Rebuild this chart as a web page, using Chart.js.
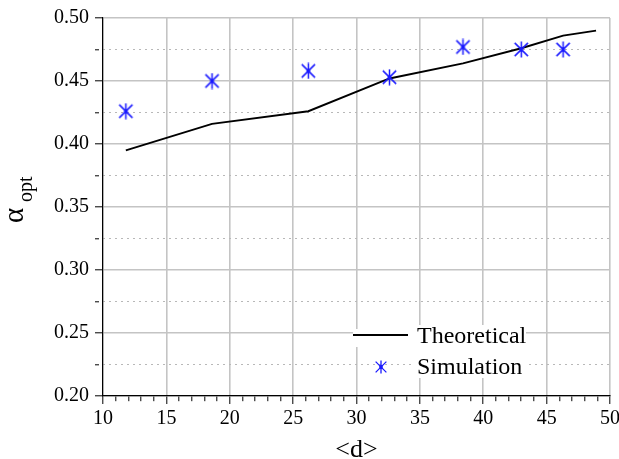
<!DOCTYPE html>
<html>
<head>
<meta charset="utf-8">
<script src="https://cdn.jsdelivr.net/npm/chart.js@4.4.1/dist/chart.umd.min.js"></script>
<style>
    html, body { margin: 0 ; padding: 0 ; background: #ffffff ; }
    #wrap { width: 619px ; height: 459px ; }
</style>
</head>
<body>
<div id="wrap"><canvas id="alphaCanvas" width="619" height="459"></canvas></div>
<script>
    // ---------------- Data -----------------------------------------------
    var theoX  = [ 11.8, 18.6, 26.2, 32.6, 38.4, 43.0, 46.3, 48.9 ] ;
    var theoY  = [ 0.395, 0.416, 0.426, 0.452, 0.464, 0.476, 0.486, 0.490 ] ;
    var simX   = [ 11.8, 18.6, 26.2, 32.6, 38.4, 43.0, 46.3 ] ;
    var simY   = [ 0.426, 0.450, 0.458, 0.453, 0.477, 0.475, 0.475 ] ;
    var xTicks = [ 10, 15, 20, 25, 30, 35, 40, 45, 50 ] ;
    var yTicks = [ 0.20, 0.25, 0.30, 0.35, 0.40, 0.45, 0.50 ] ;

    // ---------------- Styles ---------------------------------------------
    var SERIF     = '"Liberation Serif", "Times New Roman", serif' ;
    var GRID_GRAY = '#c4c4c4' ;
    var DOT_GRAY  = '#b8b8b8' ;
    var STAR_BLUE = 'rgb(25, 25, 255)' ;
    var CLEAR     = 'rgba(0,0,0,0)' ;

    function isMajorX( v ) {
        return xTicks.indexOf( Math.round( v ) ) >= 0 && Math.abs( v - Math.round( v ) ) < 1e-6 ;
    }

    function isMajorY( v ) {
        for( var i = 0 ; i < yTicks.length ; i++ ) {
            if( Math.abs( v - yTicks[i] ) < 1e-6 ) return true ;
        }
        return false ;
    }

    function toPoints( xs, ys ) {
        var pts = [] ;
        for( var i = 0 ; i < xs.length ; i++ ) {
            pts.push( { x: xs[i], y: ys[i] } ) ;
        }
        return pts ;
    }

    // asterisk marker: vertical bar + X, with a dot in the middle
    function makeStar( size, lw ) {
        var c = document.createElement( 'canvas' ) ;
        c.width = size ;
        c.height = size ;
        var ctx = c.getContext( '2d' ) ;
        var m = size / 2 ;
        var r = size / 2 - 0.6 ;
        var d = r * 0.84 ;
        ctx.strokeStyle = STAR_BLUE ;
        ctx.fillStyle = STAR_BLUE ;
        ctx.lineWidth = lw ;
        ctx.beginPath() ;
        ctx.moveTo( m, m - r ) ;     ctx.lineTo( m, m + r ) ;
        ctx.moveTo( m - d, m - d ) ; ctx.lineTo( m + d, m + d ) ;
        ctx.moveTo( m + d, m - d ) ; ctx.lineTo( m - d, m + d ) ;
        ctx.stroke() ;
        ctx.beginPath() ;
        ctx.arc( m, m, 1.9, 0, Math.PI * 2 ) ;
        ctx.fill() ;
        return c ;
    }

    var dataStar   = makeStar( 17, 1.5 ) ;
    var legendStar = makeStar( 14, 1.3 ) ;

    // ---------------- Titles and legend painted on top -------------------
    var decorPlugin = {
        id: 'decor',
        afterDraw: function( chart ) {
            var ctx = chart.ctx ;
            var area = chart.chartArea ;
            ctx.save() ;

            // x title
            ctx.fillStyle = '#000' ;
            ctx.font = '26px ' + SERIF ;
            ctx.textAlign = 'center' ;
            ctx.textBaseline = 'alphabetic' ;
            ctx.fillText( '<d>', ( area.left + area.right ) / 2, 457 ) ;

            // y title : alpha with subscript "opt"
            ctx.save() ;
            ctx.translate( 23, 223 ) ;
            ctx.rotate( -Math.PI / 2 ) ;
            ctx.textAlign = 'left' ;
            ctx.font = '29px ' + SERIF ;
            ctx.fillText( '\u03b1', 0, 0 ) ;
            ctx.font = '20px ' + SERIF ;
            ctx.fillText( 'opt', 21, 9 ) ;
            ctx.restore() ;

            // legend
            ctx.fillStyle = '#ffffff' ;
            ctx.fillRect( 353, 329, 64, 18 ) ;
            ctx.fillRect( 415, 325, 111, 53 ) ;

            ctx.strokeStyle = '#000' ;
            ctx.lineWidth = 2 ;
            ctx.beginPath() ;
            ctx.moveTo( 353, 335 ) ;
            ctx.lineTo( 408, 335 ) ;
            ctx.stroke() ;
            ctx.drawImage( legendStar, 381 - legendStar.width / 2, 367 - legendStar.height / 2 ) ;

            ctx.fillStyle = '#000' ;
            ctx.font = '24px ' + SERIF ;
            ctx.textAlign = 'left' ;
            ctx.fillText( 'Theoretical', 417, 343 ) ;
            ctx.fillText( 'Simulation', 417, 374 ) ;

            ctx.restore() ;
        }
    } ;

    // ---------------- Chart ----------------------------------------------
    var canvas = document.getElementById( 'alphaCanvas' ) ;
    var chart = new Chart( canvas, {
        type: 'scatter',
        data: {
            datasets: [
                {
                    label           : 'Theoretical',
                    data            : toPoints( theoX, theoY ),
                    showLine        : true,
                    borderColor     : '#000000',
                    backgroundColor : '#000000',
                    borderWidth     : 1.9,
                    tension         : 0,
                    pointRadius     : 0,
                    order           : 2
                },
                {
                    label           : 'Simulation',
                    data            : toPoints( simX, simY ),
                    showLine        : false,
                    pointStyle      : dataStar,
                    pointRadius     : 8,
                    order           : 1
                }
            ]
        },
        options: {
            responsive : false,
            animation  : false,
            layout     : { padding: 0 },
            plugins    : {
                legend  : { display: false },
                tooltip : { enabled: false }
            },
            scales: {
                x: {
                    type : 'linear',
                    min  : 10,
                    max  : 50,
                    afterFit: function( s ) {
                        s.height = 63 ;
                        s.paddingRight = 9 ;
                        s.paddingLeft = 0 ;
                    },
                    ticks: {
                        stepSize    : 1,
                        autoSkip    : false,
                        maxRotation : 0,
                        padding     : 3,
                        color       : '#000',
                        font        : { family: SERIF, size: 20 },
                        callback    : function( v ) { return isMajorX( v ) ? String( v ) : '' ; }
                    },
                    grid: {
                        color          : function( c ) { return c.tick && isMajorX( c.tick.value ) ? GRID_GRAY : CLEAR ; },
                        lineWidth      : 1.6,
                        tickColor      : '#000',
                        tickLength     : 8,
                        tickWidth      : 1,
                        tickBorderDash : function( c ) { return c.tick && isMajorX( c.tick.value ) ? [] : [ 5, 100 ] ; }
                    },
                    border: { color: '#000', width: 1.2 }
                },
                y: {
                    type : 'linear',
                    min  : 0.2,
                    max  : 0.5,
                    afterFit: function( s ) {
                        s.width = 103 ;
                        s.paddingTop = 18 ;
                        s.paddingBottom = 0 ;
                    },
                    ticks: {
                        stepSize : 0.025,
                        autoSkip : false,
                        padding  : 6,
                        color    : '#000',
                        font     : { family: SERIF, size: 20 },
                        callback : function( v ) { return isMajorY( v ) ? v.toFixed( 2 ) : '' ; }
                    },
                    grid: {
                        color          : function( c ) { return c.tick && isMajorY( c.tick.value ) ? GRID_GRAY : CLEAR ; },
                        lineWidth      : 1.6,
                        tickColor      : '#000',
                        tickLength     : 8,
                        tickWidth      : 1,
                        tickBorderDash : function( c ) { return c.tick && isMajorY( c.tick.value ) ? [] : [ 4, 100 ] ; }
                    },
                    border: { color: '#000', width: 1.2 }
                },
                yMinor: {
                    type     : 'linear',
                    position : 'right',
                    min      : 0.2,
                    max      : 0.5,
                    afterFit : function( s ) {
                        s.width = 0 ;
                        s.paddingTop = 0 ;
                        s.paddingBottom = 0 ;
                    },
                    ticks    : { display: false, stepSize: 0.025 },
                    grid: {
                        drawTicks : false,
                        lineWidth : 1,
                        color     : function( c ) { return c.tick && !isMajorY( c.tick.value ) ? DOT_GRAY : CLEAR ; }
                    },
                    border: { display: false, dash: [ 2, 4 ] }
                }
            }
        },
        plugins: [ decorPlugin ]
    } ) ;
</script>
</body>
</html>
